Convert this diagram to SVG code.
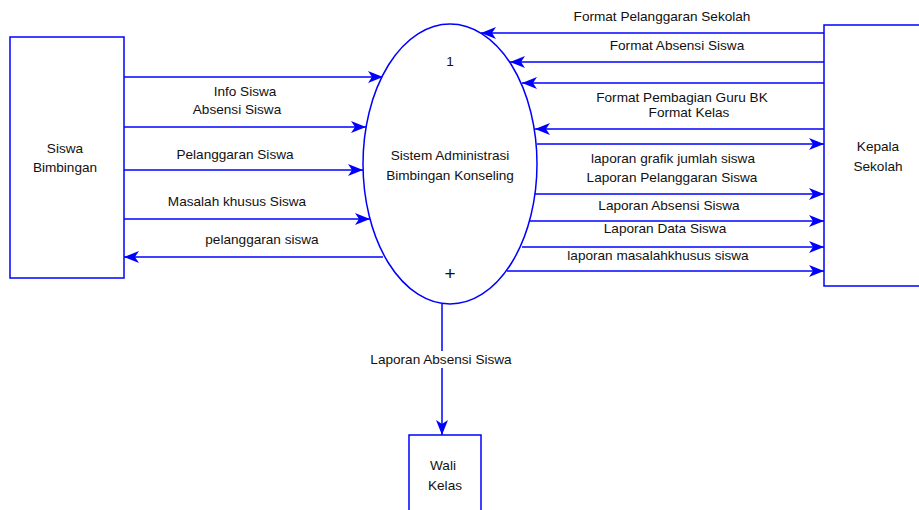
<svg xmlns="http://www.w3.org/2000/svg" width="919" height="510" viewBox="0 0 919 510">
<defs>
<marker id="ah" markerUnits="userSpaceOnUse" markerWidth="16" markerHeight="12" refX="15" refY="6" orient="auto">
<path d="M0,0 L15,6 L0,12 L4,6 z" fill="#0000ff"/>
</marker>
<style>
.b{fill:#fff;stroke:#0000ff;stroke-width:1.5}
.c{fill:none;stroke:#0000ff;stroke-width:1.5;marker-end:url(#ah)}
text{font-family:"Liberation Sans",Arial,sans-serif;font-size:13.6px;fill:#111;text-anchor:middle}
</style>
</defs>
<rect width="919" height="510" fill="#fff"/>
<g id="connectors">
<path class="c" d="M124,77 H383"/>
<path class="c" d="M124,127 H366"/>
<path class="c" d="M124,170 H363"/>
<path class="c" d="M124,219 H370"/>
<path class="c" d="M383,257 H124"/>
<path class="c" d="M824,33 H481"/>
<path class="c" d="M824,62 H510"/>
<path class="c" d="M824,83 H522"/>
<path class="c" d="M824,129 H535"/>
<path class="c" d="M537,144 H824"/>
<path class="c" d="M535,194 H824"/>
<path class="c" d="M530,221 H824"/>
<path class="c" d="M522,247 H824"/>
<path class="c" d="M507,271 H824"/>
<path class="c" d="M442,304 V435"/>
<rect x="366" y="351" width="150" height="17" fill="#fff"/>
<text x="245" y="96">Info Siswa</text>
<text x="237" y="114">Absensi Siswa</text>
<text x="235" y="159">Pelanggaran Siswa</text>
<text x="237" y="206">Masalah khusus Siswa</text>
<text x="262" y="244">pelanggaran siswa</text>
<text x="662" y="21">Format Pelanggaran Sekolah</text>
<text x="677" y="50">Format Absensi Siswa</text>
<text x="682" y="102">Format Pembagian Guru BK</text>
<text x="689" y="117">Format Kelas</text>
<text x="673" y="163">laporan grafik jumlah siswa</text>
<text x="672" y="182">Laporan Pelanggaran Siswa</text>
<text x="669" y="210">Laporan Absensi Siswa</text>
<text x="665" y="233">Laporan Data Siswa</text>
<text x="658" y="260">laporan masalahkhusus siswa</text>
<text x="441" y="364">Laporan Absensi Siswa</text>
</g>
<g id="siswa">
<rect class="b" x="10" y="37" width="114" height="241"/>
<text x="65" y="153">Siswa</text>
<text x="65" y="172">Bimbingan</text>
</g>
<g id="proses">
<ellipse class="b" cx="450" cy="164" rx="87" ry="140"/>
<text x="450" y="66">1</text>
<text x="450" y="160">Sistem Administrasi</text>
<text x="450" y="180">Bimbingan Konseling</text>
<text x="450" y="280" style="font-size:19px;font-weight:300">+</text>
</g>
<g id="kepala">
<rect class="b" x="824" y="25" width="110" height="261"/>
<text x="878" y="151">Kepala</text>
<text x="878" y="171">Sekolah</text>
</g>
<g id="wali">
<rect class="b" x="409" y="435" width="72" height="90"/>
<text x="443" y="470">Wali</text>
<text x="445" y="490">Kelas</text>
</g>
</svg>
